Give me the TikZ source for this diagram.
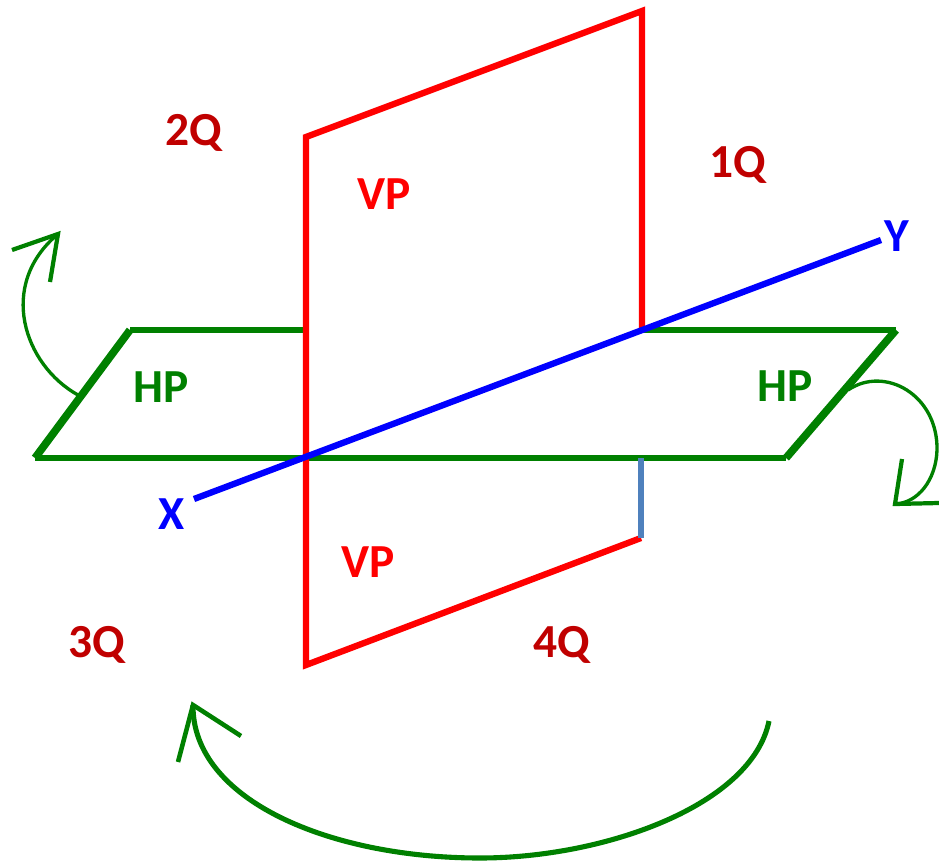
\documentclass[tikz,border=0pt]{standalone}
\usepackage{fontspec}
\setmainfont{Carlito}
\usetikzlibrary{calc}
\definecolor{hpgreen}{HTML}{008000}
\definecolor{vpred}{HTML}{FF0000}
\definecolor{qred}{HTML}{C00000}
\definecolor{xyblue}{HTML}{0000FF}
\definecolor{stblue}{HTML}{4F81BD}
\tikzset{
  hpline/.style={hpgreen, line width=3.6pt},
  vpline/.style={vpred, line width=3.6pt},
  xyline/.style={xyblue, line width=3.6pt},
  turn/.style={hpgreen, line width=1.9pt},
  qlabel/.style={text=qred, font=\fontsize{27}{27}\selectfont\bfseries},
  vplabel/.style={text=vpred, font=\fontsize{27}{27}\selectfont\bfseries},
  hplabel/.style={text=hpgreen, font=\fontsize{27}{27}\selectfont\bfseries},
  xylabel/.style={text=xyblue, font=\fontsize{27}{27}\selectfont\bfseries},
}

\begin{document}
\begin{tikzpicture}[x=0.02cm, y=-0.02cm]
\useasboundingbox (0,0) rectangle (939,861);

% Corner points (pixel grid, y downward)
\coordinate (hpa) at (35,458);
\coordinate (hpb) at (130,330);
\coordinate (hpc) at (306,330);
\coordinate (hpd) at (642,330);
\coordinate (hpe) at (896,330);
\coordinate (hpf) at (786,458);
\coordinate (vpa) at (306,137);
\coordinate (vpb) at (642,11);
\coordinate (vpc) at (306,665);
\coordinate (vpd) at (641,538);
\coordinate (vpe) at (641,458);
\coordinate (xa) at (194,499);
\coordinate (ya) at (881,240);

% Horizontal plane
\draw[hpline] (hpc) -- (hpb) (hpa) -- (hpf) (hpe) -- (hpd);
\draw[hpline, line width=4.4pt] (hpb) -- (hpa) (hpf) -- (hpe);

% Vertical plane
\draw[vpline] (hpd) -- (vpb) -- (vpa) -- (vpc) -- (vpd);
\draw[stblue, line width=3.6pt] (vpe) -- (vpd);

% Reference line
\draw[xyline] (xa) -- (ya);

% Left rotation arrow
\coordinate (lefta) at (78,395);
\coordinate (leftb) at (58,234);
\draw[turn] (lefta) .. controls (24,365) and (-3,285) .. (leftb);
\draw[turn, line width=2.4pt] (12,250) -- (leftb) -- (50,282);

% Right rotation arrow
\coordinate (righta) at (848,390);
\coordinate (rightb) at (895,504);
\draw[turn] (righta) .. controls (885,365) and (938,395) .. (937,450)
  .. controls (936,480) and (918,503) .. (rightb);
\draw[turn, line width=2.4pt] (902,459) -- (rightb) -- (939,503);

% Bottom rotation arrow
\coordinate (lowa) at (769,721);
\coordinate (lowb) at (193,705);
\draw[hpgreen, line width=2.9pt] (lowa) .. controls (752,805) and (605,858) .. (480,858)
  .. controls (330,858) and (192,800) .. (lowb);
\draw[hpgreen, line width=2.6pt] (178,762) -- (lowb) -- (241,736);

% Labels
\node[qlabel] (q1) at (738,165) {1Q};
\node[qlabel] (q2) at (194,133) {2Q};
\node[qlabel] (q3) at (97,645) {3Q};
\node[qlabel] (q4) at (562,645) {4Q};
\node[vplabel] (vptop) at (384,194) {VP};
\node[vplabel] (vpbot) at (368,562) {VP};
\node[hplabel] (hpl) at (161,387) {HP};
\node[hplabel] (hpr) at (785,386) {HP};
\node[xylabel] (xl) at (172,514) {X};
\node[xylabel] (yl) at (897,236) {Y};

\end{tikzpicture}
\end{document}
